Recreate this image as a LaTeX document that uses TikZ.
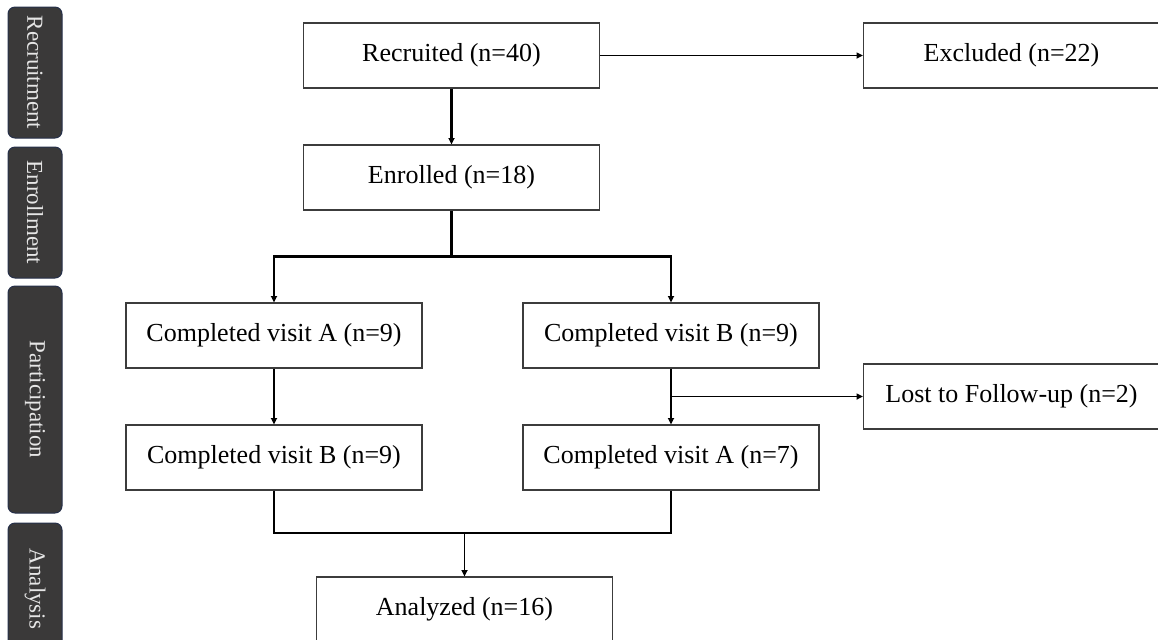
\documentclass[tikz,border=0pt]{standalone}
\usepackage{fontspec}
\setmainfont{Liberation Serif}
\usetikzlibrary{arrows.meta,calc}
\definecolor{barfill}{HTML}{3A3939}
\definecolor{barline}{HTML}{26304A}
\definecolor{bartext}{HTML}{E6E6E6}
\definecolor{boxline}{HTML}{3C3C3C}
\tikzset{
  flowbox/.style={draw=boxline,line width=0.6pt,rectangle,minimum width=148pt,minimum height=32.5pt,inner sep=0pt,font=\fontsize{13}{15}\selectfont,text=black},
  phasebar/.style={draw=barline,line width=0.5pt,fill=barfill,rounded corners=3.5pt,minimum width=27pt,inner sep=0pt,text=bartext,font=\fontsize{11.5}{13}\selectfont},
  thinarrow/.style={line width=0.8pt,-{Triangle[length=3.2pt,width=3pt]}},
  thickarrow/.style={line width=1.3pt,-{Triangle[length=3.2pt,width=3pt]}},
  thinline/.style={line width=0.8pt},
  thickline/.style={line width=1.3pt}
}
\begin{document}
\begin{tikzpicture}[x=0.5pt,y=-0.5pt]
\useasboundingbox (0,0) rectangle (1158,639);
% phase bars
\node[phasebar,minimum height=65.5pt] (bRec) at (35,72.5) {\rotatebox{-90}{Recruitment}};
\node[phasebar,minimum height=65.5pt] (bEnr) at (35,212.5) {\rotatebox{-90}{Enrollment}};
\node[phasebar,minimum height=113.5pt] (bPar) at (35,399.5) {\rotatebox{-90}{Participation}};
\node[phasebar,minimum height=66pt] (bAna) at (35,589) {\rotatebox{-90}{Analysis}};
% boxes
\node[flowbox] (rec) at (451.5,55.5) {Recruited (n=40)};
\node[flowbox] (exc) at (1011.5,55.5) {Excluded (n=22)};
\node[flowbox] (enr) at (451.5,177.5) {Enrolled (n=18)};
\node[flowbox] (va1) at (274,335.5) {Completed visit A (n=9)};
\node[flowbox] (vb1) at (671,335.5) {Completed visit B (n=9)};
\node[flowbox] (lost) at (1011.5,396.5) {Lost to Follow-up (n=2)};
\node[flowbox] (vb2) at (274,457.5) {Completed visit B (n=9)};
\node[flowbox] (va2) at (671,457.5) {Completed visit A (n=7)};
\node[flowbox] (ana) at (464.5,609.5) {Analyzed (n=16)};
% connectors
\draw[thinarrow] (rec.east) -- (exc.west);
\draw[thickarrow] (rec.south) -- (enr.north);
\coordinate (split) at ($(enr.south)+(0,46)$);
\draw[thickline] (enr.south) -- (split);
\draw[thickarrow] (split) -| (va1.north);
\draw[thickarrow] (split) -| (vb1.north);
\draw[thinarrow] (va1.south) -- (vb2.north);
\draw[thinarrow] (vb1.south) -- (va2.north);
\coordinate (lostjoin) at (vb1.south |- lost.west);
\draw[thinarrow] (lostjoin) -- (lost.west);
\coordinate (merge) at (ana.north |- 0,533);
\draw[thinline] (vb2.south) |- (merge) -| (va2.south);
\draw[thinarrow] (merge) -- (ana.north);
\end{tikzpicture}
\end{document}
